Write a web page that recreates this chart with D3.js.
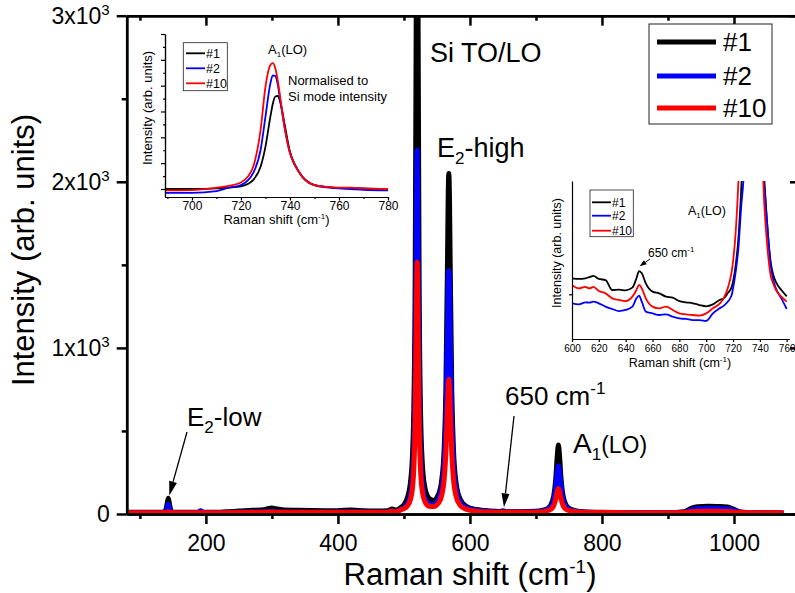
<!DOCTYPE html>
<html><head><meta charset="utf-8">
<script src="https://cdn.jsdelivr.net/npm/d3@7"></script>
<style>body{margin:0;background:#fff}svg{display:block}</style>
</head><body>
<svg id="c" width="795" height="593"></svg>
<script>
// ---------- DATA ----------
const seriesNames = ["#1", "#2", "#10"];
const seriesColors = ["#000000", "#0000ff", "#ff0000"];

// main spectrum
const mainShift = [80,110,130,138,141,143,145,148,155,180,188,192,196,210,230,250,270,290,300,305,315,340,380,400,420,440,460,475,482,488,495,500,505,510,513,515,517,518.5,520,521.5,523,525,528,532,538,545,552,557,561,563.5,566,567,568,569,570,572.5,575,579,585,595,610,630,645,650,655,670,700,714,722,727,730,732,734,736,738,741,746,754,770,800,850,900,925,935,945,960,975,990,1000,1010,1030,1050,1075];
const mainS1 = [10,10,10,14,55,95,55,14,10,10,10,12,10,10,13,18,22,28,36,32,26,22,20,20,24,20,18,20,30,24,38,55,95,195,362,644,1410,2905,4525,2905,1411,648,294,154,95,82,116,197,398,740,1523,1900,2050,1900,1523,737,393,187,91,45,27,18,15,20,14,14,16,26,51,110,212,334,415,334,212,110,51,26,14,10,8,8,14,34,44,46,45,42,28,12,8,7,6];
const mainS2 = [8,8,8,11,33,58,33,11,8,8,10,20,10,8,9,11,12,13,16,14,12,11,11,11,12,11,11,12,20,14,28,38,60,118,214,372,780,1507,2190,1507,781,374,174,95,61,55,87,152,310,568,1120,1370,1465,1370,1118,566,307,148,73,37,22,15,12,15,12,12,13,21,41,86,159,239,289,239,159,86,41,21,12,9,8,8,10,24,33,35,34,32,22,10,7,6,5];
const mainS10 = [8,8,8,9,11,14,11,9,8,8,8,9,8,8,8,9,10,11,12,11,10,10,10,10,10,10,10,11,18,12,25,32,48,89,160,277,570,1067,1515,1069,572,279,133,73,47,45,64,108,211,366,653,766,812,765,652,365,209,105,53,28,17,12,10,12,10,10,11,16,27,51,90,130,154,130,90,51,27,16,11,9,8,8,9,13,16,17,16,15,12,9,8,8,7];
const mainXTicks = [200,400,600,800,1000];
const mainXMinor = [100,300,500,700,900,1100];
const mainYTicks = [0,1000,2000,3000];
const mainYMinor = [500,1500,2500];

// inset 1: normalised A1(LO)
const normShift = [689,700,710,715,720,723,725,728,730,732,733,734,735,736,738,740,742,745,750,755,760,765,770,780];
const normS1  = [0,0,0.02,0.05,0.1,0.2,0.35,0.86,1.64,2.8,3.3,3.58,3.6,3.38,2.41,1.44,0.95,0.48,0.15,0.08,0.04,0.04,0.02,0];
const normS2  = [-0.15,-0.15,-0.08,0.05,0.15,0.35,0.62,1.51,2.8,4.09,4.4,4.37,4.05,3.45,2.28,1.39,0.92,0.48,0.15,0.06,0.02,0,-0.03,-0.05];
const normS10 = [-0.05,-0.04,0.05,0.12,0.25,0.5,0.86,2.28,3.96,4.8,4.87,4.68,4.2,3.57,2.28,1.39,0.92,0.48,0.15,0.08,0.05,0.05,0.02,0];
const normXTicks = [700,720,740,760,780];
const normXMinor = [690,710,730,750,770];
const normYTicks = [0,1,2,3,4,5,6];
const normYMinor = [0.5,1.5,2.5,3.5,4.5,5.5];

// inset 2: 600-760 region
const zoomShift = [600,605,610,613,616,620,625,630,635,640,645,648,650,652,655,660,665,670,675,680,685,690,695,700,705,710,713,716,719,720,722,724,726,728,734,741,743,745,748,750,752,756,760];
const zoomS1  = [38.4,38,38.4,39.2,40,38,37.3,31,31.2,30.8,32.5,38.4,43,41.6,35.2,30,28.9,26.8,26.2,24,23.2,22.6,21.5,20.7,21.9,24.7,25.7,28.9,33,36.3,46.8,63.7,93,130,300,140,105,78,49,40.5,36,31,27];
const zoomS2  = [22.6,21.9,23.2,23,23.6,22.6,20.5,19,17.7,18.4,20.5,25.7,27.4,23.6,17.3,16.2,15.2,15.6,14.1,13,12.7,12,12,11.4,16.2,19.4,21,23.6,27.8,32,42.6,57.4,82.7,104,300,125,100,78,46.8,37.3,32,25.7,19];
const zoomS10 = [34.2,32,33,32,33,30.4,28.9,25.7,24.7,24,26.8,31,34.2,32,25.7,20.5,19.4,20.5,18.4,16.2,15.6,15.2,14.8,16.2,19.4,22.4,25.7,32,42.6,49,68,100,150,200,300,135,90,64,40.5,35,31,26.8,23.6];
const zoomXTicks = [600,620,640,660,680,700,720,740,760];
const zoomYTicks = [28.3];

// ---------- DRAW ----------
const FONT = '"Liberation Sans", Arial, Helvetica, sans-serif';
const svg = d3.select("#c");
svg.append("rect").attr("width",795).attr("height",593).attr("fill","#fff");

function styleAxis(g, fs, sw){
  g.attr("font-size", fs).attr("font-family", FONT);
  g.selectAll("path,line").attr("stroke","#000").attr("stroke-width", sw);
  g.selectAll("text").attr("fill","#000");
}
function arrow(parent, x1, y1, x2, y2, hl, hw, sw){
  const dx = x2-x1, dy = y2-y1, L = Math.hypot(dx,dy);
  const ux = dx/L, uy = dy/L, px = -uy, py = ux;
  const bx = x2-ux*hl, by = y2-uy*hl;
  parent.append("line").attr("x1",x1).attr("y1",y1).attr("x2",bx).attr("y2",by)
    .attr("stroke","#000").attr("stroke-width",sw);
  parent.append("path").attr("d",`M${x2},${y2}L${bx+px*hw/2},${by+py*hw/2}L${bx-px*hw/2},${by-py*hw/2}Z`).attr("fill","#000");
}
function rich(parent, x, y, parts, fs, anchor){
  const t = parent.append("text").attr("x",x).attr("y",y).attr("font-family",FONT)
    .attr("font-size",fs).attr("fill","#000").attr("text-anchor",anchor||"start");
  parts.forEach(p=>{
    const s = t.append("tspan").text(p.t);
    if(p.fs) s.attr("font-size",p.fs);
    if(p.dy) s.attr("dy",p.dy);
  });
  return t;
}

// ----- main plot -----
const M = {l:126.7, r:800, t:15.7, b:514};
const x = d3.scaleLinear().domain([80,1100]).range([M.l,M.r]);
const y = d3.scaleLinear().domain([0,3000]).range([M.b,M.t]);

svg.append("clipPath").attr("id","mclip").append("rect")
  .attr("x",M.l).attr("y",M.t).attr("width",M.r-M.l).attr("height",M.b-M.t);

const mainSeries = [mainS1, mainS2, mainS10];
const mline = d3.line().x((d,i)=>x(mainShift[i])).y(d=>y(d)).curve(d3.curveMonotoneX);
const gm = svg.append("g").attr("clip-path","url(#mclip)");
mainSeries.forEach((s,i)=>{
  gm.append("path").attr("d",mline(s)).attr("fill","none")
    .attr("stroke",seriesColors[i]).attr("stroke-width",5).attr("stroke-linejoin","round");
});

// axes
const SW = 2.5;
let g;
g = svg.append("g").attr("transform",`translate(0,${M.b})`)
  .call(d3.axisBottom(x).tickValues(mainXTicks).tickSize(10).tickSizeOuter(0).tickPadding(11).tickFormat(d3.format("d")));
styleAxis(g,23,SW);
g = svg.append("g").attr("transform",`translate(0,${M.b})`)
  .call(d3.axisBottom(x).tickValues(mainXMinor).tickSize(5).tickSizeOuter(0).tickFormat(""));
styleAxis(g,23,SW);
g = svg.append("g").attr("transform",`translate(0,${M.t})`)
  .call(d3.axisTop(x).tickValues(mainXTicks).tickSize(-10).tickSizeOuter(0).tickFormat(""));
styleAxis(g,23,SW);
g = svg.append("g").attr("transform",`translate(0,${M.t})`)
  .call(d3.axisTop(x).tickValues(mainXMinor).tickSize(-5).tickSizeOuter(0).tickFormat(""));
styleAxis(g,23,SW);
g = svg.append("g").attr("transform",`translate(${M.l},0)`)
  .call(d3.axisLeft(y).tickValues(mainYTicks).tickSize(10).tickSizeOuter(0).tickPadding(7).tickFormat(d=>d));
styleAxis(g,23,SW);
g.selectAll(".tick text").each(function(d){
  const t = d3.select(this);
  if(d===0) return;
  t.text(null);
  t.append("tspan").text((d/1000)+"x10");
  t.append("tspan").text("3").attr("font-size",15).attr("dy",-9);
});
g = svg.append("g").attr("transform",`translate(${M.l},0)`)
  .call(d3.axisLeft(y).tickValues(mainYMinor).tickSize(5).tickSizeOuter(0).tickFormat(""));
styleAxis(g,23,SW);
g = svg.append("g").attr("transform",`translate(${M.r},0)`)
  .call(d3.axisRight(y).tickValues(mainYTicks).tickSize(-10).tickSizeOuter(0).tickFormat(""));
styleAxis(g,23,SW);
g = svg.append("g").attr("transform",`translate(${M.r},0)`)
  .call(d3.axisRight(y).tickValues(mainYMinor).tickSize(-5).tickSizeOuter(0).tickFormat(""));
styleAxis(g,23,SW);

// axis titles
rich(svg, 470, 585, [{t:"Raman shift (cm"},{t:"-1",fs:19,dy:-12},{t:")",dy:12}], 31, "middle");
svg.append("text").attr("transform","translate(34,250) rotate(-90)").attr("text-anchor","middle")
  .attr("font-family",FONT).attr("font-size",31).attr("fill","#000").text("Intensity (arb. units)");

// annotations
rich(svg, 430, 62, [{t:"Si TO/LO"}], 27);
rich(svg, 437, 157, [{t:"E"},{t:"2",fs:17,dy:7},{t:"-high",dy:-7}], 27);
rich(svg, 187, 426, [{t:"E"},{t:"2",fs:17,dy:7},{t:"-low",dy:-7}], 26);
rich(svg, 505, 405, [{t:"650 cm"},{t:"-1",fs:17,dy:-11}], 26);
rich(svg, 573, 453, [{t:"A"},{t:"1",fs:17,dy:7},{t:"(LO)",fs:23,dy:-7}], 28);
arrow(svg, 187, 432, x(143)+1, y(112), 14, 8, 1.3);
arrow(svg, 514, 416, x(650)+1, y(40), 14, 8, 1.3);

// legend
const lg = svg.append("g");
lg.append("rect").attr("x",649).attr("y",24).attr("width",123).attr("height",100)
  .attr("fill","#fff").attr("stroke","#222").attr("stroke-width",1);
const legY = [42,76,108];
seriesNames.forEach((n,i)=>{
  lg.append("line").attr("x1",657).attr("x2",716).attr("y1",legY[i]).attr("y2",legY[i])
    .attr("stroke",seriesColors[i]).attr("stroke-width",5);
  lg.append("text").attr("x",723).attr("y",legY[i]+9).attr("font-family",FONT)
    .attr("font-size",26).attr("fill","#000").text(n);
});

// ----- inset 1 -----
const I1 = {l:165, r:388, t:34, b:197};
const nx = d3.scaleLinear().domain([689,780]).range([I1.l,I1.r]);
const ny = d3.scaleLinear().domain([-0.31,6]).range([I1.b,I1.t]);
svg.append("clipPath").attr("id","i1clip").append("rect")
  .attr("x",I1.l).attr("y",I1.t).attr("width",I1.r-I1.l).attr("height",I1.b-I1.t);
const nline = d3.line().x((d,i)=>nx(normShift[i])).y(d=>ny(d)).curve(d3.curveMonotoneX);
const g1 = svg.append("g").attr("clip-path","url(#i1clip)");
[normS1, normS2, normS10].forEach((s,i)=>{
  g1.append("path").attr("d",nline(s)).attr("fill","none")
    .attr("stroke",seriesColors[i]).attr("stroke-width",1.8);
});
g = svg.append("g").attr("transform",`translate(0,${I1.b})`)
  .call(d3.axisBottom(nx).tickValues(normXTicks).tickSize(3.5).tickSizeOuter(0).tickPadding(0.5).tickFormat(d3.format("d")));
styleAxis(g,12,1.2);
g = svg.append("g").attr("transform",`translate(0,${I1.b})`)
  .call(d3.axisBottom(nx).tickValues(normXMinor).tickSize(2).tickSizeOuter(0).tickFormat(""));
styleAxis(g,12,1.2);
g = svg.append("g").attr("transform",`translate(${I1.l},0)`)
  .call(d3.axisLeft(ny).tickValues(normYTicks).tickSize(4).tickSizeOuter(0).tickFormat(""));
styleAxis(g,12,1.2);
g = svg.append("g").attr("transform",`translate(${I1.l},0)`)
  .call(d3.axisLeft(ny).tickValues(normYMinor).tickSize(2).tickSizeOuter(0).tickFormat(""));
styleAxis(g,12,1.2);
rich(svg, (I1.l+I1.r)/2, 224, [{t:"Raman shift (cm"},{t:"-1",fs:8,dy:-5},{t:")",dy:5}], 13, "middle");
svg.append("text").attr("transform","translate(152,108) rotate(-90)").attr("text-anchor","middle")
  .attr("font-family",FONT).attr("font-size",13).attr("fill","#000").text("Intensity (arb. units)");
rich(svg, 268, 54, [{t:"A"},{t:"1",fs:8,dy:3},{t:"(LO)",dy:-3}], 13);
rich(svg, 288, 85, [{t:"Normalised to"}], 13);
rich(svg, 288, 101, [{t:"Si mode intensity"}], 13);
const l1 = svg.append("g");
l1.append("rect").attr("x",183.3).attr("y",42.7).attr("width",44).attr("height",48)
  .attr("fill","#fff").attr("stroke","#222").attr("stroke-width",0.8);
const l1Y = [53.3,68.3,83.3];
seriesNames.forEach((n,i)=>{
  l1.append("line").attr("x1",186).attr("x2",205).attr("y1",l1Y[i]).attr("y2",l1Y[i])
    .attr("stroke",seriesColors[i]).attr("stroke-width",1.8);
  l1.append("text").attr("x",206).attr("y",l1Y[i]+4.4).attr("font-family",FONT)
    .attr("font-size",12.5).attr("fill","#000").text(n);
});

// ----- inset 2 -----
const I2 = {l:572, r:789.4, t:181, b:339};
const zx = d3.scaleLinear().domain([600,762]).range([I2.l,I2.r]);
const zy = d3.scaleLinear().domain([0,100]).range([I2.b,I2.t]);
svg.append("clipPath").attr("id","i2clip").append("rect")
  .attr("x",I2.l).attr("y",I2.t).attr("width",I2.r-I2.l).attr("height",I2.b-I2.t);
const zline = d3.line().x((d,i)=>zx(zoomShift[i])).y(d=>zy(d)).curve(d3.curveMonotoneX);
const g2 = svg.append("g").attr("clip-path","url(#i2clip)");
[zoomS1, zoomS2, zoomS10].forEach((s,i)=>{
  g2.append("path").attr("d",zline(s)).attr("fill","none")
    .attr("stroke",seriesColors[i]).attr("stroke-width",1.8);
});
g = svg.append("g").attr("transform",`translate(0,${I2.b})`)
  .call(d3.axisBottom(zx).tickValues(zoomXTicks).tickSize(3).tickSizeOuter(0).tickPadding(3).tickFormat(d3.format("d")));
styleAxis(g,10,1.2);
g = svg.append("g").attr("transform",`translate(${I2.l},0)`)
  .call(d3.axisLeft(zy).tickValues(zoomYTicks).tickSize(3).tickSizeOuter(0).tickFormat(""));
styleAxis(g,10,1.2);
rich(svg, 680, 367, [{t:"Raman shift (cm"},{t:"-1",fs:8,dy:-5},{t:")",dy:5}], 12.5, "middle");
svg.append("text").attr("transform","translate(561,253) rotate(-90)").attr("text-anchor","middle")
  .attr("font-family",FONT).attr("font-size",12.5).attr("fill","#000").text("Intensity (arb. units)");
rich(svg, 688, 215, [{t:"A"},{t:"1",fs:8,dy:3},{t:"(LO)",dy:-3}], 12.5);
rich(svg, 648, 257, [{t:"650 cm"},{t:"-1",fs:8,dy:-5}], 12);
arrow(svg, 650, 259, zx(650)+0.5, zy(46), 7, 5, 1);
const l2 = svg.append("g");
l2.append("rect").attr("x",590).attr("y",190).attr("width",43.3).attr("height",46.7)
  .attr("fill","#fff").attr("stroke","#222").attr("stroke-width",0.8);
const l2Y = [202.3,215.7,230.7];
seriesNames.forEach((n,i)=>{
  l2.append("line").attr("x1",592).attr("x2",611).attr("y1",l2Y[i]).attr("y2",l2Y[i])
    .attr("stroke",seriesColors[i]).attr("stroke-width",1.8);
  l2.append("text").attr("x",612).attr("y",l2Y[i]+4.3).attr("font-family",FONT)
    .attr("font-size",12).attr("fill","#000").text(n);
});
</script>
</body></html>
